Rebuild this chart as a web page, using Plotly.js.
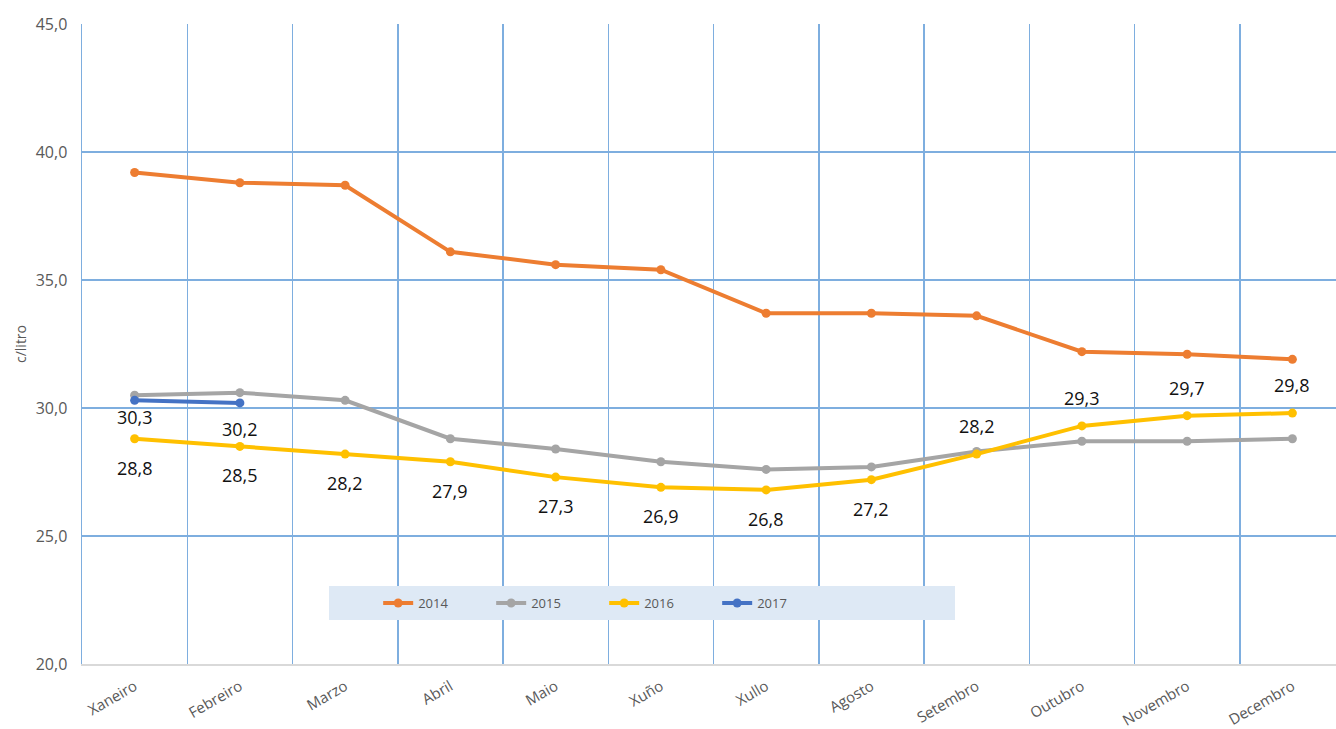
<!DOCTYPE html>
<html>
<head>
<meta charset="utf-8">
<script src="https://cdn.plot.ly/plotly-3.0.1.min.js"></script>
<style>
html,body{margin:0;padding:0;overflow:hidden;background:#fff;}
#chart{width:1350px;height:729px;}
</style>
</head>
<body>
<div id="chart"></div>
<script>
const months = ["Xaneiro","Febreiro","Marzo","Abril","Maio","Xuño","Xullo","Agosto","Setembro","Outubro","Novembro","Decembro"];
const y2014 = [39.2,38.8,38.7,36.1,35.6,35.4,33.7,33.7,33.6,32.2,32.1,31.9];
const y2015 = [30.5,30.6,30.3,28.8,28.4,27.9,27.6,27.7,28.3,28.7,28.7,28.8];
const y2016 = [28.8,28.5,28.2,27.9,27.3,26.9,26.8,27.2,28.2,29.3,29.7,29.8];
const y2017 = [30.3,30.2];
const seriesNames = ["2014","2015","2016","2017"];
const colors = ["#ED7D31","#A5A5A5","#FFC000","#4472C4"];

const allSeries = [y2014,y2015,y2016,y2017];
const traces = allSeries.map((ys,i)=>({
  type:"scatter", mode:"lines+markers", name:seriesNames[i],
  x: months.slice(0, ys.length), y: ys,
  line:{color:colors[i], width:4},
  marker:{color:colors[i], size:9},
  hoverinfo:"skip"
}));

function fmt(v){return v.toFixed(1).replace(".", ",");}
const labelFont = {family:"Open Sans, Noto Sans, sans-serif", size:18, color:"#111111"};
const annotations = [];
y2016.forEach((v,i)=>{
  annotations.push({x:months[i], y:v, xref:"x", yref:"y", text:fmt(v), showarrow:false,
    yshift: i<8 ? -29 : 28, font:labelFont});
});
y2017.forEach((v,i)=>{
  annotations.push({x:months[i], y:v, xref:"x", yref:"y", text:fmt(v), showarrow:false,
    yshift: i===0 ? -17 : -26, font:labelFont});
});

const layout = {
  width:1350, height:729,
  margin:{l:82, r:5, t:24, b:65},
  separators:",.",
  paper_bgcolor:"#fff", plot_bgcolor:"#fff",
  font:{family:"Open Sans, Noto Sans, sans-serif", color:"#595959"},
  showlegend:true,
  legend:{orientation:"h", x:0.2345, xanchor:"left", y:0.0953, yanchor:"middle",
    bgcolor:"rgba(0,0,0,0)", font:{size:13, color:"#595959"}, entrywidth:68, itemwidth:30},
  xaxis:{type:"category", categoryorder:"array", categoryarray:months,
    tickson:"boundaries", showgrid:true, gridcolor:"#7EAEDF", gridwidth:1.5,
    ticks:"", tickangle:-30, tickfont:{size:15, color:"#595959"}, ticklabelstandoff:6,
    showline:true, linecolor:"#D9D9D9", linewidth:2, zeroline:false, range:[-0.5,11.5], fixedrange:true},
  yaxis:{range:[20,45], dtick:5, tick0:20, tickformat:".1f", showgrid:true, gridcolor:"#7EAEDF", gridwidth:1.5,
    zeroline:false, showline:true, linecolor:"#7EAEDF", linewidth:1.5, ticks:"", ticklabelstandoff:10,
    tickfont:{size:16, color:"#595959"},
    title:{text:"c/litro", font:{size:14, color:"#595959"}, standoff:6}},
  shapes:[{type:"rect", xref:"paper", yref:"paper", layer:"above",
    x0:(329-82)/1263, x1:(955-82)/1263, y0:(664-620)/640, y1:(664-586)/640,
    fillcolor:"#DEE9F5", line:{width:0}}],
  annotations: annotations
};

Plotly.newPlot("chart", traces, layout, {displayModeBar:false, staticPlot:true});
</script>
</body>
</html>
